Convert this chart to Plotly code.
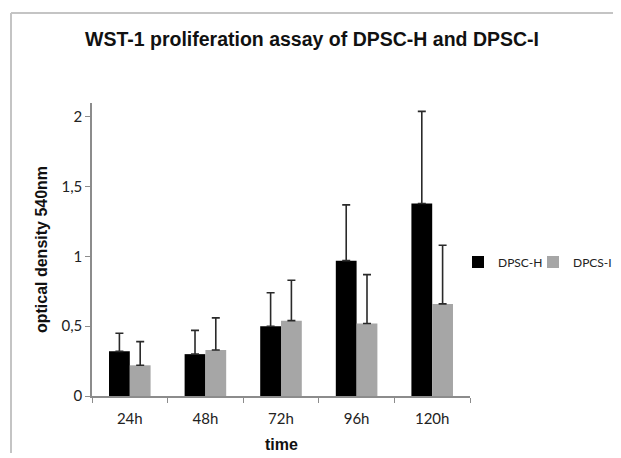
import plotly.graph_objects as go

categories = ["24h", "48h", "72h", "96h", "120h"]
dpsc_h = [0.32, 0.30, 0.50, 0.97, 1.38]
dpsc_h_err = [0.13, 0.17, 0.24, 0.40, 0.66]
dpcs_i = [0.22, 0.33, 0.54, 0.52, 0.66]
dpcs_i_err = [0.17, 0.23, 0.29, 0.35, 0.42]
y_ticks = [0, 0.5, 1, 1.5, 2]

# page body has an 8px margin; figure is a bit wider than the window so the
# right-hand legend entry is not clipped by plotly's own legend sizing
W, H = 640, 450

err_style = dict(type="data", symmetric=False, arrayminus=[0] * 5,
                 color="#2a2a2a", thickness=1.6, width=4)

fig = go.Figure()
fig.add_trace(go.Bar(name="DPSC-H", x=categories, y=dpsc_h, legend="legend",
                     marker=dict(color="#000000", line=dict(width=0)),
                     error_y=dict(array=dpsc_h_err, **err_style)))
fig.add_trace(go.Bar(name="DPCS-I", x=categories, y=dpcs_i, legend="legend2",
                     marker=dict(color="#a6a6a6", line=dict(width=0)),
                     error_y=dict(array=dpcs_i_err, **err_style)))

TITLE_FONT = "Liberation Sans, Arial, sans-serif"
leg_common = dict(orientation="h", xref="container", yref="container",
                  xanchor="left", y=1 - 254 / H, yanchor="middle",
                  font=dict(size=12, color="#222"), itemwidth=30,
                  bgcolor="rgba(0,0,0,0)", borderwidth=0)
fig.update_layout(
    width=W, height=H,
    margin=dict(l=84, r=W - 462, t=95, b=62, autoexpand=False),
    paper_bgcolor="white", plot_bgcolor="white",
    separators=",.",
    barmode="group", bargap=0.45, bargroupgap=0,
    font=dict(family="Lato, 'Open Sans', sans-serif", size=14, color="#222"),
    title=dict(text="<b>WST-1 proliferation assay of DPSC-H and DPSC-I</b>",
               x=304 / W, xref="container", xanchor="center",
               y=1 - 31 / H, yref="container", yanchor="middle",
               font=dict(family=TITLE_FONT, size=19.5, color="#111")),
    legend=dict(x=450 / W, **leg_common),
    legend2=dict(x=525 / W, **leg_common),
    showlegend=True,
    shapes=[
        dict(type="line", xref="paper", yref="paper", x0=-0.2143, x1=-0.2143,
             y0=-0.1945, y1=1.307, line=dict(color="#c4c4c4", width=2)),
        dict(type="line", xref="paper", yref="paper", x0=-0.2143, x1=1.5,
             y0=1.307, y1=1.307, line=dict(color="#c4c4c4", width=2)),
    ],
    annotations=[
        dict(text="<b>time</b>", xref="paper", yref="paper", x=0.5, y=-0.167,
             xanchor="center", yanchor="middle", showarrow=False,
             font=dict(family=TITLE_FONT, size=16, color="#111")),
    ],
)
fig.update_xaxes(
    type="category", showline=True, linecolor="#8c8c8c", linewidth=1.5,
    ticks="outside", tickson="boundaries", ticklen=5, tickcolor="#8c8c8c",
    showgrid=False, automargin=False, ticklabelstandoff=8,
    tickfont=dict(size=15, color="#222"),
)
fig.update_yaxes(
    range=[0, 2.1], tickvals=y_ticks, showline=True, linecolor="#8c8c8c", linewidth=1.5,
    ticks="outside", ticklen=5, tickcolor="#8c8c8c", showgrid=False, zeroline=False,
    automargin=True, tickfont=dict(size=15, color="#222"),
    title=dict(text="<b>optical density 540nm</b>", font=dict(family=TITLE_FONT, size=16, color="#111"), standoff=10),
)

fig.write_html("out.html")
